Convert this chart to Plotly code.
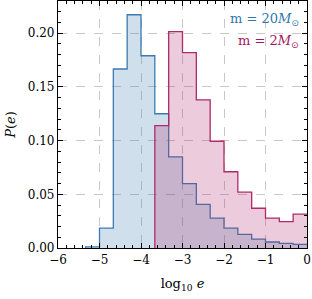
import plotly.graph_objects as go

# 18 bins of width 1/3 from -6 to 0
bin_edges = [round(-6 + i / 3, 6) for i in range(19)]

blue_vals = [0, 0, 0.001, 0.0185, 0.1667, 0.2172, 0.179, 0.125, 0.0849,
             0.060, 0.0407, 0.0278, 0.0185, 0.0126, 0.0083, 0.0056, 0.0043, 0.0034]
red_vals = [0, 0, 0, 0, 0, 0, 0, 0.114, 0.2015, 0.182, 0.138, 0.0994,
            0.071, 0.052, 0.037, 0.0278, 0.0245, 0.0315]

x_ticks = [-6, -5, -4, -3, -2, -1, 0]
x_ticktext = ["\u22126", "\u22125", "\u22124", "\u22123", "\u22122", "\u22121", "0"]


def step(edges, vals, start):
    xs = [edges[start]]
    ys = [0]
    for i in range(start, len(vals)):
        xs.append(edges[i])
        ys.append(vals[i])
    xs.append(edges[len(vals)])
    ys.append(vals[-1])
    return xs, ys


blue_col = "#3b7bb0"
red_col = "#b1286b"

fig = go.Figure()
bx, by = step(bin_edges, blue_vals, 2)
rx, ry = step(bin_edges, red_vals, 7)
fig.add_trace(go.Scatter(x=bx, y=by, mode="lines", line_shape="hv",
                         line=dict(color=blue_col, width=1.3),
                         fill="tozeroy", fillcolor="rgba(59,123,176,0.24)",
                         showlegend=False, hoverinfo="skip"))
fig.add_trace(go.Scatter(x=rx, y=ry, mode="lines", line_shape="hv",
                         line=dict(color=red_col, width=1.3),
                         fill="tozeroy", fillcolor="rgba(177,40,107,0.24)",
                         showlegend=False, hoverinfo="skip"))

font = "DejaVu Serif"
axis_common = dict(showline=True, linecolor="black", linewidth=1.2, mirror="allticks",
                   ticks="inside", ticklen=5, tickwidth=1, tickcolor="black",
                   showgrid=True, gridcolor="#c8c8c8", griddash="dash", gridwidth=1,
                   zeroline=False, automargin=False, ticklabeloverflow="allow",
                   tickfont=dict(family=font, size=12, color="black"))

fig.update_xaxes(range=[-6, 0], tickvals=x_ticks, ticktext=x_ticktext,
                 minor=dict(ticks="inside", ticklen=2.5, dtick=0.2, tick0=0, tickcolor="black", showgrid=False),
                 title=dict(text="log<sub>10</sub> <i>e</i>", font=dict(family=font, size=13, color="black"), standoff=13),
                 **axis_common)
fig.update_yaxes(range=[0, 0.23], dtick=0.05, tick0=0, tickformat=".2f",
                 minor=dict(ticks="inside", ticklen=2.5, dtick=0.01, tick0=0, tickcolor="black", showgrid=False),
                 title=dict(text="<i>P</i>(<i>e</i>)", font=dict(family=font, size=13, color="black"), standoff=9),
                 **axis_common)

sun = "<span style='font-family:DejaVu Sans'>\u2299</span>"
fig.add_annotation(x=0.975, y=0.925, xref="paper", yref="paper", xanchor="right", yanchor="middle",
                   text="m = 20<i>M</i><sub>" + sun + "</sub>", showarrow=False,
                   font=dict(family=font, size=13, color="#2f76ad"))
fig.add_annotation(x=0.975, y=0.835, xref="paper", yref="paper", xanchor="right", yanchor="middle",
                   text="m = 2<i>M</i><sub>" + sun + "</sub>", showarrow=False,
                   font=dict(family=font, size=13, color="#a3175f"))

fig.update_layout(width=312, height=299, margin=dict(l=58, r=5, t=1, b=51),
                  paper_bgcolor="white", plot_bgcolor="white")
fig.write_html("out.html", config={"displayModeBar": False},
               post_script="document.body.style.margin='0';document.body.style.overflow='hidden';")
